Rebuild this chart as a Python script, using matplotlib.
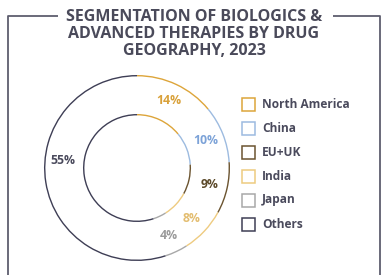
import matplotlib
matplotlib.use("Agg")
import matplotlib.pyplot as plt
import numpy as np

title = "SEGMENTATION OF BIOLOGICS &\nADVANCED THERAPIES BY DRUG\nGEOGRAPHY, 2023"
categories = ["North America", "China", "EU+UK", "India", "Japan", "Others"]
shares = [14, 10, 9, 8, 4, 55]
colors = ["#DDA53A", "#9DBBE0", "#6B5430", "#EECB80", "#A8A8A8", "#3E3E55"]
label_colors = ["#D9A13A", "#7DA3D8", "#5C4A2A", "#E3BD70", "#9A9A9A", "#4A4A5C"]

W, H = 387, 275
fig = plt.figure(figsize=(W / 100, H / 100), dpi=100)
ax = fig.add_axes([0, 0, 1, 1])
ax.set_xlim(0, W)
ax.set_ylim(0, H)
ax.set_aspect("equal")
ax.axis("off")

frame_c = "#5E5E6E"
# frame
ax.plot([8, 8, 58], [0, H - 16, H - 16], color=frame_c, lw=1.3, solid_capstyle="butt")
ax.plot([333, 380, 380], [H - 16, H - 16, 0], color=frame_c, lw=1.3, solid_capstyle="butt")

ax.text(194, H - 34, title, ha="center", va="center", fontsize=11.5,
        fontweight="bold", family="Open Sans", color="#4A4A5A", linespacing=1.12)

cx, cy = 137, H - 168
R_out, R_in = 93, 54
for r in (R_out, R_in):
    wedges, _ = ax.pie(shares, colors=colors, radius=r, center=(cx, cy),
                       startangle=90, counterclock=False,
                       wedgeprops=dict(width=1.4, linewidth=0))
ax.set_xlim(0, W)
ax.set_ylim(0, H)

r_lab = 0.8 * R_out
for w, s, c in zip(wedges, shares, label_colors):
    ang = (w.theta1 + w.theta2) / 2
    if s == max(shares):
        ang = 174
    x = cx + r_lab * np.cos(np.deg2rad(ang))
    y = cy + r_lab * np.sin(np.deg2rad(ang))
    ax.text(x, y, f"{s}%", ha="center", va="center", fontsize=8.8,
            fontweight="bold", family="Open Sans", color=c)

# legend
lx, ly0, dy = 242, H - 104, 24
for i, (cat, c) in enumerate(zip(categories, colors)):
    y = ly0 - i * dy
    ax.add_patch(plt.Rectangle((lx, y - 6.5), 13, 13, fill=False, edgecolor=c, lw=1.1))
    ax.text(lx + 20, y, cat, ha="left", va="center", fontsize=8.6,
            fontweight="bold", family="Open Sans", color="#4A4A5C")

fig.savefig("out.png", dpi=100)
